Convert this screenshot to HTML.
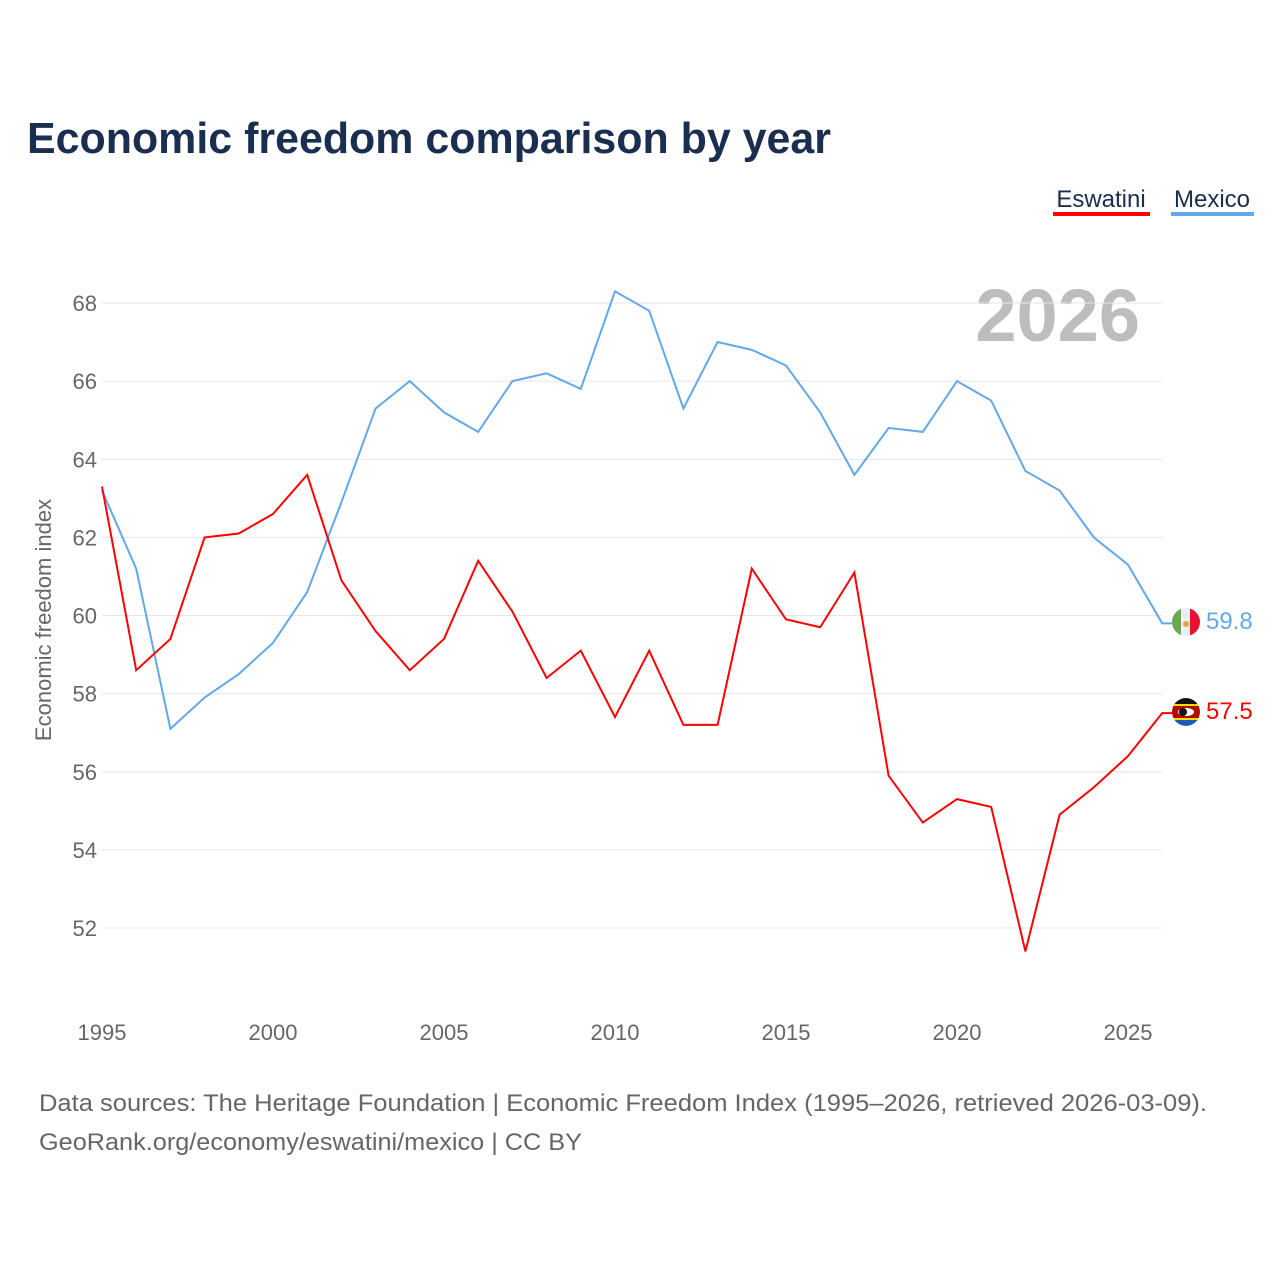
<!DOCTYPE html>
<html><head><meta charset="utf-8"><style>
body{margin:0;background:#fff;font-family:"Liberation Sans",sans-serif;}
svg text{font-family:"Liberation Sans",sans-serif;}
</style></head><body>
<svg width="1280" height="1280" xmlns="http://www.w3.org/2000/svg" id="chart">
<defs>
<clipPath id="c1"><circle cx="1186" cy="622" r="14"/></clipPath>
<clipPath id="c2"><circle cx="1186" cy="712" r="14"/></clipPath>
</defs>
<text x="27" y="153" font-size="44" font-weight="bold" fill="#1a2e4f" textLength="804" lengthAdjust="spacingAndGlyphs">Economic freedom comparison by year</text>
<g>
<text x="1101" y="207" font-size="24" fill="#1a2e4f" text-anchor="middle">Eswatini</text>
<rect x="1053" y="212" width="97" height="4" fill="#ff0000"/></g>
<g>
<text x="1212" y="207" font-size="24" fill="#1a2e4f" text-anchor="middle">Mexico</text>
<rect x="1171" y="212" width="83" height="4" fill="#63a8e8"/></g>
<text x="1140" y="341" font-size="74" font-weight="bold" fill="#bdbdbd" text-anchor="end">2026</text>
<text transform="translate(51,620) rotate(-90)" font-size="22" fill="#666" text-anchor="middle">Economic freedom index</text>
<g id="grid"></g><g id="yt"></g><g id="xt"></g><g id="lines"></g>
<g clip-path="url(#c1)">
<rect x="1172" y="608" width="10" height="28" fill="#6aa84f"/><rect x="1181" y="608" width="10" height="28" fill="#eee"/><rect x="1190" y="608" width="10" height="28" fill="#e8112d"/>
<circle cx="1186" cy="624" r="3" fill="#e8a33c"/></g>
<g clip-path="url(#c2)">
<rect x="1172" y="698" width="28" height="8" fill="#111"/><rect x="1172" y="704" width="28" height="2" fill="#ffd900"/>
<rect x="1172" y="706" width="28" height="12" fill="#b10c0c"/><rect x="1172" y="718" width="28" height="2" fill="#ffd900"/>
<rect x="1172" y="720" width="28" height="8" fill="#1e5bb8"/><ellipse cx="1186" cy="712" rx="8" ry="4" fill="#fff"/><ellipse cx="1183" cy="712" rx="4" ry="4" fill="#111"/></g>
<text x="1206" y="629" font-size="24" fill="#63a8e8">59.8</text>
<text x="1206" y="719" font-size="24" fill="#ff0000">57.5</text>
<text x="39" y="1111" font-size="24" fill="#666" textLength="1168" lengthAdjust="spacingAndGlyphs">Data sources: The Heritage Foundation | Economic Freedom Index (1995–2026, retrieved 2026-03-09).</text>
<text x="39" y="1150" font-size="24" fill="#666" textLength="543" lengthAdjust="spacingAndGlyphs">GeoRank.org/economy/eswatini/mexico | CC BY</text>
</svg>
<script>
const years=[1995,1996,1997,1998,1999,2000,2001,2002,2003,2004,2005,2006,2007,2008,2009,2010,2011,2012,2013,2014,2015,2016,2017,2018,2019,2020,2021,2022,2023,2024,2025,2026];
const mexico=[63.2,61.2,57.1,57.9,58.5,59.3,60.6,62.9,65.3,66.0,65.2,64.7,66.0,66.2,65.8,68.3,67.8,65.3,67.0,66.8,66.4,65.2,63.6,64.8,64.7,66.0,65.5,63.7,63.2,62.0,61.3,59.8];
const eswatini=[63.3,58.6,59.4,62.0,62.1,62.6,63.6,60.9,59.6,58.6,59.4,61.4,60.1,58.4,59.1,57.4,59.1,57.2,57.2,61.2,59.9,59.7,61.1,55.9,54.7,55.3,55.1,51.4,54.9,55.6,56.4,57.5];
const yTicks=[52,54,56,58,60,62,64,66,68];
const xTicks=[1995,2000,2005,2010,2015,2020,2025];
const X=y=>102+(y-1995)*(1128-102)/30;
const Y=v=>928-(v-52)*(625/16);
const NS="http://www.w3.org/2000/svg";
function mk(t,a,p){const e=document.createElementNS(NS,t);for(const k in a)e.setAttribute(k,a[k]);p.appendChild(e);return e;}
const g=document.getElementById('grid'),yt=document.getElementById('yt'),xt=document.getElementById('xt'),L=document.getElementById('lines');
yTicks.forEach(v=>{
const l=mk('line',{x1:102,x2:1162,y1:Y(v),y2:Y(v),stroke:'#e6e6e6','stroke-width':1},g);


const t=mk('text',{x:97,y:Y(v)+8,'font-size':22,fill:'#666','text-anchor':'end'},yt);t.textContent=v;


});
xTicks.forEach(v=>{
const t=mk('text',{x:X(v),y:1040,'font-size':22,fill:'#666','text-anchor':'middle'},xt);t.textContent=v;


});
function line(d,c,n){
const pts=d.map((v,i)=>X(years[i])+','+Y(v));
pts.push((X(years[years.length-1])+10)+','+Y(d[d.length-1]));
const p=mk('polyline',{points:pts.join(' '),fill:'none',stroke:c,'stroke-width':2},L);


}
line(mexico,'#63a8e8','mexico-line');
line(eswatini,'#ff0000','eswatini-line');
</script>
</body></html>
